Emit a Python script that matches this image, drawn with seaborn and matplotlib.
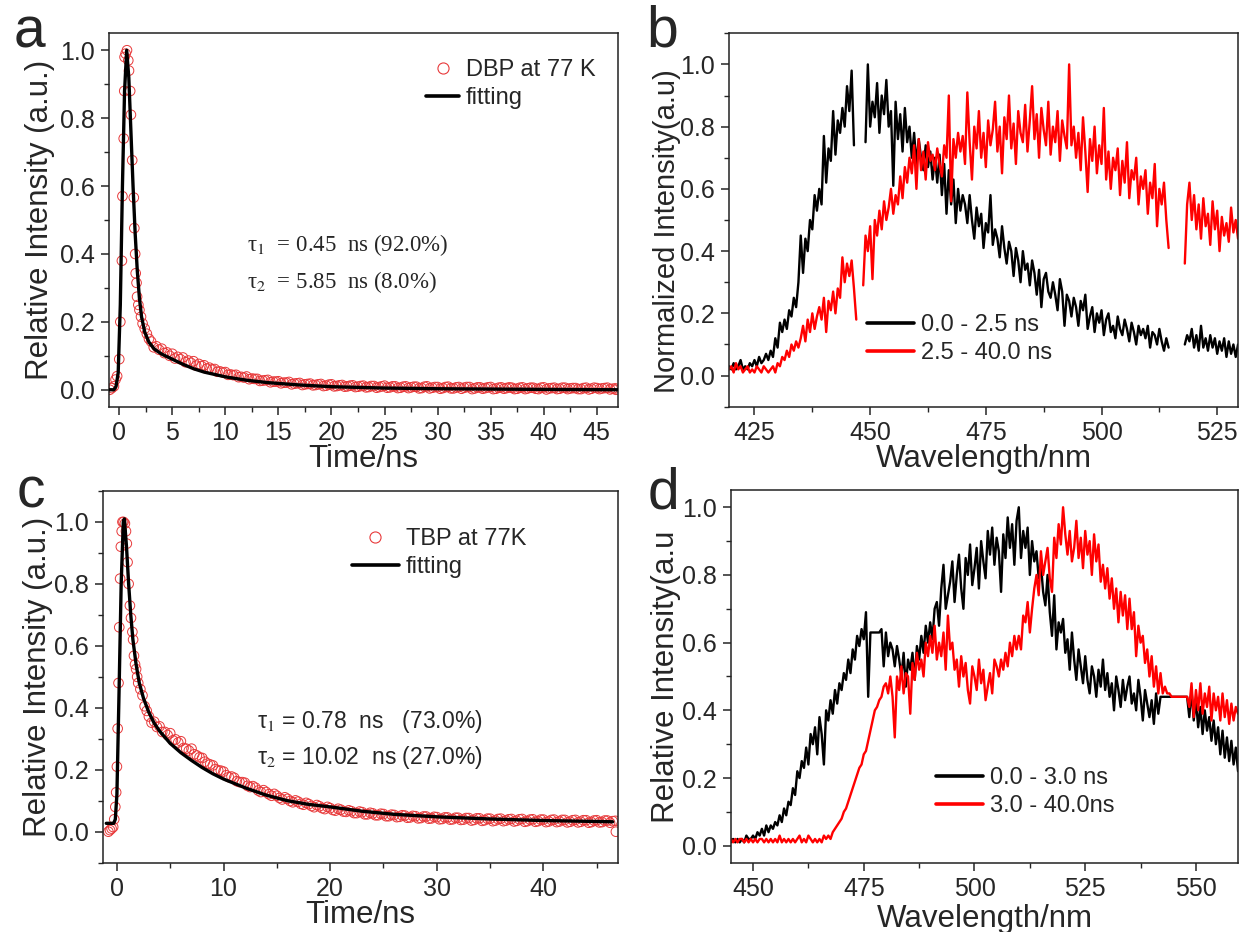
import matplotlib
matplotlib.use("Agg")
import matplotlib.pyplot as plt
from matplotlib.lines import Line2D
from matplotlib.ticker import MultipleLocator, FormatStrFormatter
import numpy as np
import pandas as pd
import seaborn as sns


# ---------------- panel a: DBP decay at 77 K ----------------
DBP_T_EARLY = [-0.9, -0.7, -0.5, -0.35, -0.2, 0.0, 0.1, 0.25, 0.3, 0.42, 0.47, 0.5, 0.6,
               0.73, 0.85, 0.92, 1.03, 1.1, 1.22, 1.37, 1.42, 1.5, 1.55, 1.63, 1.68, 1.8,
               1.9, 2.05, 2.2, 2.4, 2.6, 2.8]
DBP_V_EARLY = [0.0, 0.005, 0.01, 0.03, 0.04, 0.09, 0.2, 0.38, 0.57, 0.74, 0.88, 0.98, 0.99,
               1.0, 0.97, 0.94, 0.88, 0.81, 0.676, 0.566, 0.476, 0.40, 0.343, 0.315, 0.274, 0.25,
               0.235, 0.215, 0.195, 0.18, 0.165, 0.15]
# tail sampled every 0.5 ns from 3.0 to 46.5 ns
DBP_V_TAIL = [0.142, 0.128, 0.121, 0.110, 0.106, 0.097, 0.095, 0.086, 0.084, 0.076,
              0.072, 0.065, 0.061, 0.054, 0.052, 0.045, 0.044, 0.038, 0.039, 0.033,
              0.032, 0.027, 0.029, 0.024, 0.025, 0.021, 0.023, 0.018, 0.020, 0.016,
              0.018, 0.014, 0.017, 0.012, 0.016, 0.011, 0.014, 0.010, 0.013, 0.009,
              0.012, 0.008, 0.011, 0.008, 0.012, 0.007, 0.010, 0.006, 0.010, 0.007,
              0.009, 0.005, 0.010, 0.006, 0.008, 0.005, 0.009, 0.004, 0.008, 0.006,
              0.008, 0.004, 0.007, 0.005, 0.008, 0.003, 0.007, 0.005, 0.006, 0.003,
              0.007, 0.004, 0.006, 0.002, 0.007, 0.004, 0.006, 0.003, 0.006, 0.004,
              0.005, 0.002, 0.006, 0.003, 0.005, 0.004, 0.006, 0.003]
# second readout of the same band, 3.25 to 46.75 ns
DBP_V_TAIL2 = [0.125, 0.118, 0.108, 0.100, 0.092, 0.090, 0.081, 0.079, 0.071, 0.070,
               0.062, 0.060, 0.053, 0.051, 0.044, 0.043, 0.037, 0.036, 0.031, 0.032,
               0.026, 0.028, 0.022, 0.024, 0.019, 0.021, 0.016, 0.019, 0.014, 0.017,
               0.013, 0.016, 0.011, 0.015, 0.010, 0.013, 0.009, 0.012, 0.008, 0.011,
               0.007, 0.011, 0.006, 0.010, 0.006, 0.010, 0.005, 0.009, 0.005, 0.009,
               0.004, 0.009, 0.004, 0.008, 0.003, 0.008, 0.004, 0.007, 0.003, 0.008,
               0.002, 0.007, 0.003, 0.007, 0.002, 0.006, 0.003, 0.007, 0.002, 0.006,
               0.002, 0.006, 0.003, 0.006, 0.001, 0.005, 0.002, 0.006, 0.002, 0.005,
               0.002, 0.005, 0.001, 0.006, 0.002, 0.005, 0.001, 0.004]
DBP_T_END = [46.8]
DBP_V_END = [0.0]
DBP_FIT_T = [-1.0, -0.5, -0.3, -0.1, 0.1, 0.3, 0.5, 0.7, 0.9, 1.1, 1.3, 1.5, 1.7, 1.9, 2.1,
             2.4, 2.8, 3.3, 4.0, 5.0, 6.0, 7.0, 8.0, 10.0, 12.0, 14.0, 17.0, 20.0, 25.0,
             30.0, 35.0, 40.0, 47.0]
DBP_FIT_V = [0.0, 0.0, 0.01, 0.05, 0.25, 0.6, 0.88, 1.0, 0.92, 0.76, 0.6, 0.46, 0.35, 0.27,
             0.215, 0.17, 0.14, 0.12, 0.105, 0.09, 0.075, 0.062, 0.052, 0.038, 0.028, 0.021,
             0.014, 0.009, 0.005, 0.003, 0.002, 0.001, 0.0]

# ---------------- panel c: TBP decay at 77 K ----------------
TBP_T_EARLY = [-0.8, -0.65, -0.5, -0.35, -0.25, -0.15, -0.07, 0.0, 0.07, 0.15, 0.22, 0.3,
               0.37, 0.45, 0.52, 0.62, 0.75, 0.85, 0.93, 1.0, 1.1, 1.22, 1.32, 1.45, 1.52,
               1.6, 1.7, 1.8, 1.9, 2.0, 2.2, 2.4, 2.6, 2.8]
TBP_V_EARLY = [0.0, 0.005, 0.01, 0.015, 0.04, 0.08, 0.127, 0.21, 0.333, 0.48, 0.66, 0.817,
               0.92, 0.97, 1.0, 1.0, 0.995, 0.97, 0.93, 0.87, 0.80, 0.73, 0.69, 0.645, 0.62,
               0.568, 0.54, 0.525, 0.50, 0.48, 0.46, 0.44, 0.405, 0.39]
TBP_V_TAIL = [0.372, 0.355, 0.340, 0.322, 0.318, 0.298, 0.292, 0.268, 0.268, 0.246,
              0.238, 0.220, 0.214, 0.198, 0.194, 0.176, 0.174, 0.160, 0.158, 0.144,
              0.142, 0.128, 0.128, 0.116, 0.116, 0.104, 0.106, 0.095, 0.097, 0.087,
              0.089, 0.079, 0.082, 0.073, 0.076, 0.068, 0.071, 0.064, 0.066, 0.060,
              0.063, 0.056, 0.059, 0.053, 0.057, 0.050, 0.054, 0.048, 0.052, 0.046,
              0.050, 0.044, 0.049, 0.043, 0.047, 0.041, 0.046, 0.040, 0.045, 0.039,
              0.044, 0.038, 0.043, 0.037, 0.042, 0.036, 0.042, 0.036, 0.041, 0.035,
              0.041, 0.034, 0.040, 0.034, 0.039, 0.033, 0.039, 0.033, 0.038, 0.032,
              0.038, 0.032, 0.037, 0.031, 0.037, 0.031, 0.036, 0.034]
TBP_V_TAIL2 = [0.352, 0.338, 0.322, 0.312, 0.295, 0.288, 0.270, 0.262, 0.250, 0.240,
               0.226, 0.217, 0.202, 0.197, 0.182, 0.178, 0.163, 0.160, 0.148, 0.147,
               0.133, 0.134, 0.121, 0.122, 0.109, 0.111, 0.099, 0.101, 0.090, 0.093,
               0.083, 0.086, 0.076, 0.080, 0.070, 0.074, 0.065, 0.069, 0.060, 0.065,
               0.056, 0.061, 0.053, 0.058, 0.050, 0.055, 0.047, 0.053, 0.045, 0.051,
               0.043, 0.049, 0.042, 0.048, 0.040, 0.046, 0.039, 0.045, 0.038, 0.044,
               0.036, 0.043, 0.035, 0.042, 0.034, 0.041, 0.034, 0.040, 0.033, 0.040,
               0.032, 0.039, 0.032, 0.039, 0.031, 0.038, 0.031, 0.038, 0.030, 0.037,
               0.030, 0.037, 0.029, 0.036, 0.030, 0.036, 0.029, 0.035]
TBP_T_END = [46.8]
TBP_V_END = [0.0]
TBP_FIT_T = [-1.0, -0.3, -0.15, 0.0, 0.2, 0.4, 0.6, 0.7, 0.9, 1.1, 1.3, 1.5, 1.8, 2.1, 2.5,
             3.0, 3.5, 4.0, 5.0, 6.0, 7.0, 8.0, 9.0, 10.0, 12.0, 14.0, 16.0, 18.0, 20.0,
             23.0, 26.0, 30.0, 35.0, 40.0, 46.5]
TBP_FIT_V = [0.027, 0.027, 0.04, 0.12, 0.45, 0.8, 1.0, 1.01, 0.92, 0.8, 0.7, 0.62, 0.54,
             0.48, 0.43, 0.385, 0.35, 0.325, 0.285, 0.255, 0.23, 0.207, 0.187, 0.17, 0.142,
             0.118, 0.1, 0.088, 0.08, 0.066, 0.056, 0.048, 0.041, 0.036, 0.032]

TAIL_STEP = 0.5

# ---------------- panel b: spectra, 0.5 nm steps from 419.5 to 529.5 nm ----------------
B_START, B_STOP = 419.5, 529.5
B_EARLY = [0.03, 0.02, 0.04, 0.02, 0.03, 0.05, 0.02, 0.03, 0.02, 0.04,
           0.03, 0.05, 0.03, 0.06, 0.04, 0.05, 0.07, 0.05, 0.08, 0.06,
           0.12, 0.09, 0.17, 0.14, 0.18, 0.15, 0.21, 0.19, 0.25, 0.22,
           0.30, 0.45, 0.33, 0.44, 0.40, 0.50, 0.47, 0.58, 0.53, 0.60,
           0.55, 0.77, 0.62, 0.73, 0.69, 0.85, 0.71, 0.82, 0.78, 0.86,
           0.80, 0.93, 0.85, 0.98, 0.74, np.nan, np.nan, np.nan, np.nan, 0.75,
           1.00, 0.80, 0.88, 0.83, 0.94, 0.78, 0.90, 0.84, 0.95, 0.80,
           0.85, 0.61, 0.88, 0.76, 0.84, 0.72, 0.86, 0.75, 0.80, 0.70,
           0.78, 0.68, 0.76, 0.70, 0.66, 0.74, 0.67, 0.72, 0.63, 0.70,
           0.62, 0.71, 0.58, 0.68, 0.52, 0.66, 0.55, 0.63, 0.49, 0.60,
           0.53, 0.58, 0.55, 0.49, 0.58, 0.50, 0.44, 0.54, 0.48, 0.52,
           0.41, 0.49, 0.46, 0.58, 0.42, 0.47, 0.44, 0.38, 0.48, 0.41,
           0.36, 0.43, 0.40, 0.32, 0.41, 0.37, 0.30, 0.40, 0.34, 0.36,
           0.29, 0.37, 0.33, 0.26, 0.34, 0.22, 0.31, 0.33, 0.27, 0.25,
           0.30, 0.26, 0.21, 0.31, 0.27, 0.16, 0.26, 0.24, 0.19, 0.25,
           0.22, 0.16, 0.24, 0.21, 0.26, 0.15, 0.19, 0.22, 0.14, 0.20,
           0.17, 0.21, 0.13, 0.18, 0.20, 0.14, 0.16, 0.12, 0.19, 0.15,
           0.13, 0.18, 0.15, 0.11, 0.17, 0.14, 0.10, 0.16, 0.13, 0.15,
           0.12, 0.16, 0.09, 0.14, 0.13, 0.10, 0.15, 0.11, 0.08, 0.12,
           0.09, np.nan, np.nan, np.nan, np.nan, np.nan, np.nan, 0.10, 0.13, 0.11,
           0.15, 0.09, 0.13, 0.08, 0.16, 0.09, 0.12, 0.08, 0.13, 0.09,
           0.12, 0.07, 0.11, 0.08, 0.12, 0.06, 0.11, 0.07, 0.10, 0.06,
           0.10]
B_LATE = [0.02, 0.03, 0.01, 0.04, 0.02, 0.03, 0.01, 0.02, 0.03, 0.01,
          0.02, 0.01, 0.03, 0.02, 0.01, 0.03, 0.02, 0.01, 0.02, 0.03,
          0.01, 0.04, 0.03, 0.06, 0.05, 0.08, 0.06, 0.10, 0.08, 0.11,
          0.09, 0.12, 0.16, 0.11, 0.18, 0.14, 0.20, 0.15, 0.19, 0.22,
          0.18, 0.25, 0.14, 0.24, 0.21, 0.27, 0.20, 0.28, 0.25, 0.38,
          0.30, 0.36, 0.32, 0.37, 0.28, 0.18, np.nan, np.nan, 0.29, 0.45,
          0.40, 0.48, 0.31, 0.50, 0.45, 0.53, 0.47, 0.56, 0.50, 0.54,
          0.60, 0.52, 0.58, 0.55, 0.64, 0.57, 0.67, 0.62, 0.70, 0.65,
          0.74, 0.60, 0.76, 0.66, 0.72, 0.63, 0.75, 0.69, 0.71, 0.66,
          0.73, 0.68, 0.64, 0.74, 0.70, 0.90, 0.56, 0.76, 0.70, 0.78,
          0.72, 0.77, 0.68, 0.91, 0.75, 0.63, 0.80, 0.73, 0.85, 0.70,
          0.78, 0.67, 0.82, 0.74, 0.79, 0.88, 0.72, 0.80, 0.65, 0.83,
          0.76, 0.90, 0.73, 0.81, 0.68, 0.85, 0.78, 0.75, 0.87, 0.72,
          0.82, 0.93, 0.76, 0.84, 0.70, 0.86, 0.79, 0.74, 0.88, 0.71,
          0.80, 0.75, 0.85, 0.69, 0.82, 0.77, 0.73, 1.00, 0.74, 0.80,
          0.70, 0.78, 0.66, 0.83, 0.72, 0.59, 0.76, 0.69, 0.80, 0.65,
          0.74, 0.68, 0.86, 0.63, 0.72, 0.60, 0.70, 0.66, 0.73, 0.58,
          0.69, 0.62, 0.75, 0.57, 0.66, 0.63, 0.70, 0.55, 0.64, 0.60,
          0.66, 0.52, 0.62, 0.57, 0.68, 0.48, 0.60, 0.55, 0.62, 0.50,
          0.41, np.nan, np.nan, np.nan, np.nan, np.nan, np.nan, 0.36, 0.55, 0.62,
          0.50, 0.58, 0.47, 0.55, 0.44, 0.57, 0.48, 0.52, 0.42, 0.56,
          0.47, 0.53, 0.40, 0.51, 0.45, 0.49, 0.43, 0.54, 0.46, 0.50,
          0.44]

# ---------------- panel d: spectra, 0.5 nm steps from 445.0 to 559.5 nm ----------------
D_START, D_STOP = 445.0, 559.5
D_EARLY = [0.01, 0.02, 0.01, 0.02, 0.01, 0.02, 0.01, 0.03, 0.02, 0.02,
           0.03, 0.02, 0.04, 0.03, 0.05, 0.03, 0.06, 0.04, 0.06, 0.05,
           0.07, 0.06, 0.09, 0.07, 0.11, 0.09, 0.13, 0.12, 0.17, 0.15,
           0.22, 0.20, 0.25, 0.23, 0.29, 0.24, 0.33, 0.30, 0.35, 0.27,
           0.38, 0.33, 0.24, 0.40, 0.37, 0.43, 0.39, 0.46, 0.42, 0.48,
           0.46, 0.51, 0.49, 0.55, 0.51, 0.58, 0.55, 0.62, 0.59, 0.64,
           0.61, 0.69, 0.44, 0.63, 0.63, 0.63, 0.63, 0.63, 0.64, 0.53,
           0.63, 0.56, 0.60, 0.58, 0.53, 0.59, 0.55, 0.50, 0.57, 0.47,
           0.55, 0.52, 0.57, 0.49, 0.59, 0.55, 0.62, 0.57, 0.65, 0.60,
           0.66, 0.61, 0.70, 0.72, 0.65, 0.76, 0.83, 0.70, 0.74, 0.78,
           0.84, 0.72, 0.80, 0.86, 0.76, 0.70, 0.85, 0.80, 0.89, 0.77,
           0.82, 0.88, 0.76, 0.90, 0.84, 0.79, 0.93, 0.86, 0.94, 0.83,
           0.91, 0.87, 0.75, 0.92, 0.85, 0.97, 0.88, 0.95, 0.83, 0.96,
           1.00, 0.85, 0.93, 0.88, 0.94, 0.80, 0.90, 0.84, 0.87, 0.79,
           0.83, 0.75, 0.71, 0.80, 0.69, 0.62, 0.74, 0.58, 0.66, 0.63,
           0.67, 0.57, 0.61, 0.52, 0.63, 0.55, 0.49, 0.58, 0.53, 0.48,
           0.56, 0.49, 0.45, 0.53, 0.50, 0.44, 0.52, 0.47, 0.55, 0.46,
           0.51, 0.44, 0.48, 0.40, 0.50, 0.46, 0.41, 0.49, 0.43, 0.47,
           0.50, 0.42, 0.45, 0.40, 0.49, 0.44, 0.37, 0.46, 0.42, 0.38,
           0.43, 0.36, 0.45, 0.39, 0.44, 0.44, 0.44, 0.44, 0.44, 0.44,
           0.44, 0.44, 0.44, 0.44, 0.44, 0.44, 0.44, 0.38, 0.46, 0.37,
           0.43, 0.35, 0.41, 0.33, 0.40, 0.34, 0.38, 0.31, 0.37, 0.30,
           0.35, 0.27, 0.34, 0.26, 0.32, 0.25, 0.31, 0.24, 0.29, 0.22]
D_LATE = [0.02, 0.01, 0.02, 0.01, 0.02, 0.02, 0.01, 0.02, 0.01, 0.02,
          0.01, 0.02, 0.01, 0.02, 0.02, 0.01, 0.02, 0.01, 0.02, 0.01,
          0.02, 0.01, 0.03, 0.01, 0.02, 0.01, 0.02, 0.01, 0.02, 0.01,
          0.02, 0.03, 0.01, 0.02, 0.01, 0.03, 0.02, 0.01, 0.02, 0.01,
          0.02, 0.01, 0.03, 0.02, 0.03, 0.02, 0.04, 0.05, 0.06, 0.07,
          0.08, 0.10, 0.11, 0.13, 0.15, 0.17, 0.19, 0.21, 0.23, 0.24,
          0.27, 0.28, 0.31, 0.34, 0.37, 0.40, 0.41, 0.43, 0.44, 0.47,
          0.48, 0.45, 0.50, 0.44, 0.32, 0.50, 0.46, 0.53, 0.45, 0.51,
          0.50, 0.39, 0.54, 0.49, 0.57, 0.52, 0.55, 0.50, 0.60, 0.56,
          0.62, 0.57, 0.65, 0.55, 0.60, 0.56, 0.63, 0.52, 0.68, 0.58,
          0.60, 0.52, 0.55, 0.47, 0.56, 0.50, 0.54, 0.46, 0.42, 0.53,
          0.50, 0.46, 0.55, 0.48, 0.52, 0.43, 0.47, 0.51, 0.45, 0.55,
          0.53, 0.50, 0.55, 0.52, 0.57, 0.53, 0.60, 0.56, 0.62, 0.58,
          0.62, 0.58, 0.68, 0.66, 0.72, 0.63, 0.70, 0.76, 0.80, 0.74,
          0.87, 0.80, 0.84, 0.88, 0.79, 0.75, 0.91, 0.85, 0.95, 0.89,
          1.00, 0.92, 0.86, 0.93, 0.84, 0.88, 0.96, 0.85, 0.91, 0.82,
          0.93, 0.86, 0.90, 0.80, 0.92, 0.84, 0.89, 0.78, 0.83, 0.76,
          0.82, 0.73, 0.79, 0.70, 0.76, 0.66, 0.75, 0.68, 0.74, 0.64,
          0.73, 0.64, 0.69, 0.56, 0.65, 0.60, 0.62, 0.54, 0.58, 0.50,
          0.56, 0.47, 0.53, 0.45, 0.51, 0.45, 0.47, 0.45, 0.45, 0.44,
          0.44, 0.44, 0.44, 0.44, 0.44, 0.44, 0.44, 0.41, 0.48, 0.38,
          0.46, 0.40, 0.48, 0.39, 0.45, 0.41, 0.47, 0.37, 0.45, 0.40,
          0.44, 0.37, 0.45, 0.38, 0.43, 0.36, 0.42, 0.37, 0.41, 0.39]

B_LABELS = ["0.0 - 2.5 ns", "2.5 - 40.0 ns"]
D_LABELS = ["0.0 - 3.0 ns", "3.0 - 40.0ns"]

RED = "#FF0000"
CIRCLE_RED = "#E8393A"
SANS = ["Liberation Sans", "DejaVu Sans"]
SERIF = ["Liberation Serif", "DejaVu Serif"]


def setup():
    sns.set_theme(style="ticks")
    plt.rcParams["font.family"] = SANS
    plt.rcParams["mathtext.fontset"] = "stix"
    plt.rcParams["axes.linewidth"] = 1.1
    plt.rcParams["axes.edgecolor"] = "#222222"


def decay_frame(t_early, v_early, v_tail, v_tail2, t_end, v_end):
    t_tail = np.arange(3.0, 47.0, TAIL_STEP)
    t = np.concatenate([t_early, t_tail, t_tail + TAIL_STEP / 2, t_end])
    v = np.concatenate([v_early, v_tail, v_tail2, v_end])
    return pd.DataFrame({"t": t, "v": v})


def spectrum_frame(start, stop, values, label):
    wl = np.arange(start, stop + 0.25, 0.5)
    v = np.asarray(values, dtype=float)
    seg = np.cumsum(np.isnan(v))
    df = pd.DataFrame({"wl": wl, "v": v, "seg": seg, "series": label})
    return df.dropna()


def style_axis(ax, xmaj, xmin, xlim, ylim):
    ax.set_xlim(*xlim)
    ax.set_ylim(*ylim)
    ax.xaxis.set_major_locator(MultipleLocator(xmaj))
    ax.xaxis.set_minor_locator(MultipleLocator(xmin))
    ax.yaxis.set_major_locator(MultipleLocator(0.2))
    ax.yaxis.set_minor_locator(MultipleLocator(0.1))
    ax.yaxis.set_major_formatter(FormatStrFormatter("%.1f"))
    ax.tick_params(which="major", direction="out", length=6, width=1.1, labelsize=18, pad=4,
                   top=False, right=False)
    ax.tick_params(which="minor", direction="out", length=3.5, width=1.0, top=False, right=False)
    for s in ax.spines.values():
        s.set_visible(True)


def decay_panel(ax, df, fit_t, fit_v, label, xmaj, xmin, xlim, ylim, leg_anchor, handlelen):
    sns.scatterplot(data=df, x="t", y="v", ax=ax, marker="o", s=48, facecolors="none",
                    edgecolor=CIRCLE_RED, linewidth=0.7, legend=False, zorder=2)
    fit = pd.DataFrame({"t": fit_t, "v": fit_v})
    sns.lineplot(data=fit, x="t", y="v", ax=ax, color="black", linewidth=2.4, sort=False,
                 estimator=None, legend=False, zorder=3)
    style_axis(ax, xmaj, xmin, xlim, ylim)
    handles = [
        Line2D([], [], linestyle="none", marker="o", markerfacecolor="none",
               markeredgecolor=CIRCLE_RED, markersize=8, markeredgewidth=0.8),
        Line2D([], [], color="black", linewidth=2.6),
    ]
    ax.legend(handles, [label, "fitting"], loc="center left", bbox_to_anchor=leg_anchor,
              frameon=False, fontsize=17, handlelength=handlelen, handletextpad=0.3,
              labelspacing=0.25, borderpad=0, borderaxespad=0)


def spectrum_panel(ax, early, late, labels, palette, xmaj, xmin, xlim, ylim, leg_anchor):
    data = pd.concat([early, late], ignore_index=True)
    sns.lineplot(data=data, x="wl", y="v", hue="series", units="seg", estimator=None,
                 palette=palette, hue_order=labels, linewidth=1.7, ax=ax, legend=False)
    style_axis(ax, xmaj, xmin, xlim, ylim)
    handles = [Line2D([], [], color=palette[lab], linewidth=2.6) for lab in labels]
    ax.legend(handles, labels, loc="center left", bbox_to_anchor=leg_anchor, frameon=False,
              fontsize=17, handlelength=2.0, handletextpad=0.3, labelspacing=0.25,
              borderpad=0, borderaxespad=0)


def main():
    setup()
    fig = plt.figure(figsize=(12.43, 9.32), dpi=100)
    ax_a = fig.add_axes([0.0874, 0.5636, 0.4098, 0.4007])
    ax_b = fig.add_axes([0.5865, 0.5636, 0.4095, 0.4007])
    ax_c = fig.add_axes([0.0829, 0.0744, 0.4143, 0.3988])
    ax_d = fig.add_axes([0.5880, 0.0744, 0.4080, 0.3995])

    dbp = decay_frame(DBP_T_EARLY, DBP_V_EARLY, DBP_V_TAIL, DBP_V_TAIL2, DBP_T_END, DBP_V_END)
    decay_panel(ax_a, dbp, DBP_FIT_T, DBP_FIT_V, "DBP at 77 K", 5, 2.5, (-1.0, 47.0),
                (-0.05, 1.05), (0.623, 0.864), 1.4)
    ax_a.text(0.272, 0.433, "\u03c4$_1$  = 0.45  ns (92.0%)", transform=ax_a.transAxes,
              family=SERIF, fontsize=16.5, va="center")
    ax_a.text(0.272, 0.334, "\u03c4$_2$  = 5.85  ns (8.0%)", transform=ax_a.transAxes,
              family=SERIF, fontsize=16.5, va="center")

    tbp = decay_frame(TBP_T_EARLY, TBP_V_EARLY, TBP_V_TAIL, TBP_V_TAIL2, TBP_T_END, TBP_V_END)
    decay_panel(ax_c, tbp, TBP_FIT_T, TBP_FIT_V, "TBP at 77K", 10, 5, (-1.3, 47.0),
                (-0.1, 1.1), (0.483, 0.832), 2.0)
    ax_c.text(0.299, 0.381, "\u03c4$_1$ = 0.78  ns   (73.0%)", transform=ax_c.transAxes,
              fontsize=16.5, va="center")
    ax_c.text(0.299, 0.282, "\u03c4$_2$ = 10.02  ns (27.0%)", transform=ax_c.transAxes,
              fontsize=16.5, va="center")

    b_pal = {B_LABELS[0]: "black", B_LABELS[1]: RED}
    spectrum_panel(ax_b, spectrum_frame(B_START, B_STOP, B_EARLY, B_LABELS[0]),
                   spectrum_frame(B_START, B_STOP, B_LATE, B_LABELS[1]), B_LABELS, b_pal,
                   25, 12.5, (419.5, 529.5), (-0.1, 1.1), (0.271, 0.181))

    d_pal = {D_LABELS[0]: "black", D_LABELS[1]: RED}
    spectrum_panel(ax_d, spectrum_frame(D_START, D_STOP, D_EARLY, D_LABELS[0]),
                   spectrum_frame(D_START, D_STOP, D_LATE, D_LABELS[1]), D_LABELS, d_pal,
                   25, 12.5, (445.0, 559.5), (-0.05, 1.05), (0.404, 0.19))

    for ax, xl, yl, xc, yc, ysize in [
        (ax_a, "Time/ns", "Relative Intensity (a.u.)", -0.10, -0.135, 22.5),
        (ax_b, "Wavelength/nm", "Normalized Intensity(a.u)", -0.10, -0.122, 21),
        (ax_c, "Time/ns", "Relative Intensity (a.u.)", -0.10, -0.127, 22.5),
        (ax_d, "Wavelength/nm", "Relative Intensity(a.u", -0.11, -0.127, 22.5),
    ]:
        ax.set_xlabel(xl, fontsize=22.5)
        ax.set_ylabel(yl, fontsize=ysize)
        ax.xaxis.set_label_coords(0.5, xc)
        ax.xaxis.label.set_va("top")
        ax.yaxis.set_label_coords(yc, 0.5)
        ax.yaxis.label.set_va("center")
    # keep the long label of panel b clear of the panel letter
    ax_b.yaxis.set_label_coords(-0.122, 0.47)

    for x, y, letter in [(0.011, 0.9485, "a"), (0.52, 0.95, "b"),
                         (0.013, 0.455, "c"), (0.521, 0.454, "d")]:
        fig.text(x, y, letter, fontsize=41, ha="left", va="baseline")

    fig.savefig("out.png", dpi=100)
    plt.close(fig)


if __name__ == "__main__":
    main()
